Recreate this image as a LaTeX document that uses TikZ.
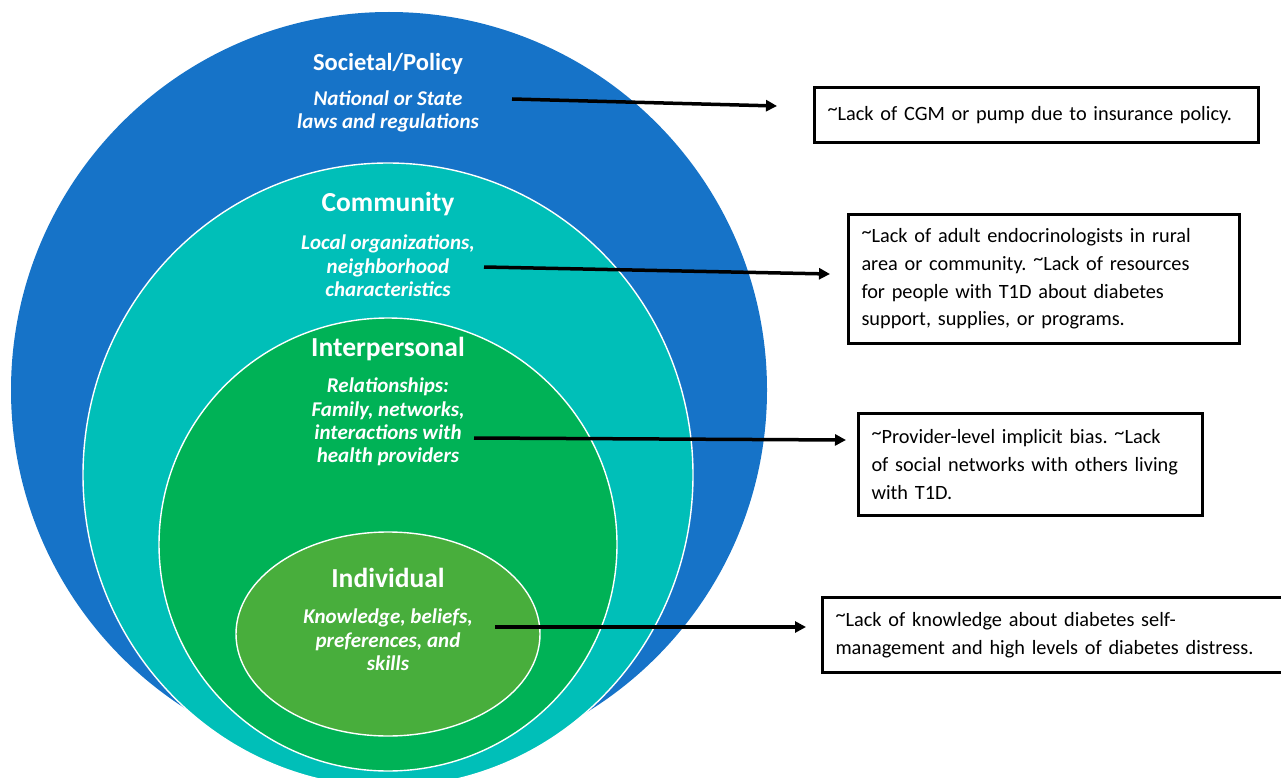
\documentclass[tikz,border=0pt]{standalone}
\usepackage{fontspec}
\setmainfont{Carlito}
\usetikzlibrary{arrows.meta}

\definecolor{policyblue}{RGB}{22,115,200}
\definecolor{commteal}{RGB}{0,191,184}
\definecolor{intergreen}{RGB}{0,178,86}
\definecolor{indivgreen}{RGB}{72,174,60}

\newcommand{\tld}{\raisebox{0.22em}{\textasciitilde}}

\tikzset{
  layertitle/.style={text=white, font=\bfseries\fontsize{27.5}{30}\selectfont, inner sep=0pt},
  layersub/.style={text=white, font=\bfseries\itshape\fontsize{21}{23.3}\selectfont, align=center, inner sep=0pt},
  ring/.style={draw=white, line width=1.4pt},
  notebox/.style={draw=black, line width=3pt, fill=white, anchor=north west, align=left,
    inner xsep=13pt, inner ysep=4pt, font=\frenchspacing\fontsize{20.3}{27.7}\selectfont},
  pointer/.style={line width=3.5pt, -{Triangle[length=11pt,width=11pt]}},
}

\begin{document}
\begin{tikzpicture}[x=1pt,y=-1pt]
\useasboundingbox (0,0) rectangle (1281,778);

% nested levels of the model
\fill[policyblue] (389,390) circle [radius=378];
\fill[commteal, ring] (388,475) ellipse [x radius=305, y radius=312];
\fill[intergreen, ring] (388,544.5) ellipse [x radius=229, y radius=226.5];
\fill[indivgreen, ring] (388,634) ellipse [x radius=152, y radius=102];

% level titles and descriptions
\node[layertitle, font=\bfseries\fontsize{24.5}{30}\selectfont] (t1) at (388,64) {Societal/Policy};
\node[layersub] (s1) at (388,111.5) {National or State\\laws and regulations};
\node[layertitle] (t2) at (388,204) {Community};
\node[layersub] (s2) at (388,266) {Local organizations,\\neighborhood\\characteristics};
\node[layertitle] (t3) at (388,349) {Interpersonal};
\node[layersub] (s3) at (388,422) {Relationships:\\Family, networks,\\interactions with\\health providers};
\node[layertitle] (t4) at (388,578) {Individual};
\node[layersub] (s4) at (388,640) {Knowledge, beliefs,\\preferences, and\\skills};

% barrier boxes
\node[notebox, text width=418pt, minimum height=55pt] (b1) at (813,86)
  {\tld Lack of CGM or pump due to insurance policy.};
\node[notebox, text width=365pt, minimum height=129pt] (b2) at (847,213)
  {\tld Lack of adult endocrinologists in rural\\area or community. \tld Lack of resources\\for people with T1D about diabetes\\support, supplies, or programs.};
\node[notebox, text width=318pt, minimum height=102pt] (b3) at (857,412)
  {\tld Provider-level implicit bias. \tld Lack\\of social networks with others living\\with T1D.};
\node[notebox, text width=440pt, minimum height=75pt] (b4) at (821,596)
  {\tld Lack of knowledge about diabetes self-\\management and high levels of diabetes distress.};

% arrow ends
\coordinate (a1s) at (512,99);  \coordinate (a1e) at (777,106);
\coordinate (a2s) at (484,267); \coordinate (a2e) at (830,274);
\coordinate (a3s) at (474,438); \coordinate (a3e) at (846,440);
\coordinate (a4s) at (495,627); \coordinate (a4e) at (806,627);

\draw[pointer] (a1s) -- (a1e);
\draw[pointer] (a2s) -- (a2e);
\draw[pointer] (a3s) -- (a3e);
\draw[pointer] (a4s) -- (a4e);
\end{tikzpicture}
\end{document}
